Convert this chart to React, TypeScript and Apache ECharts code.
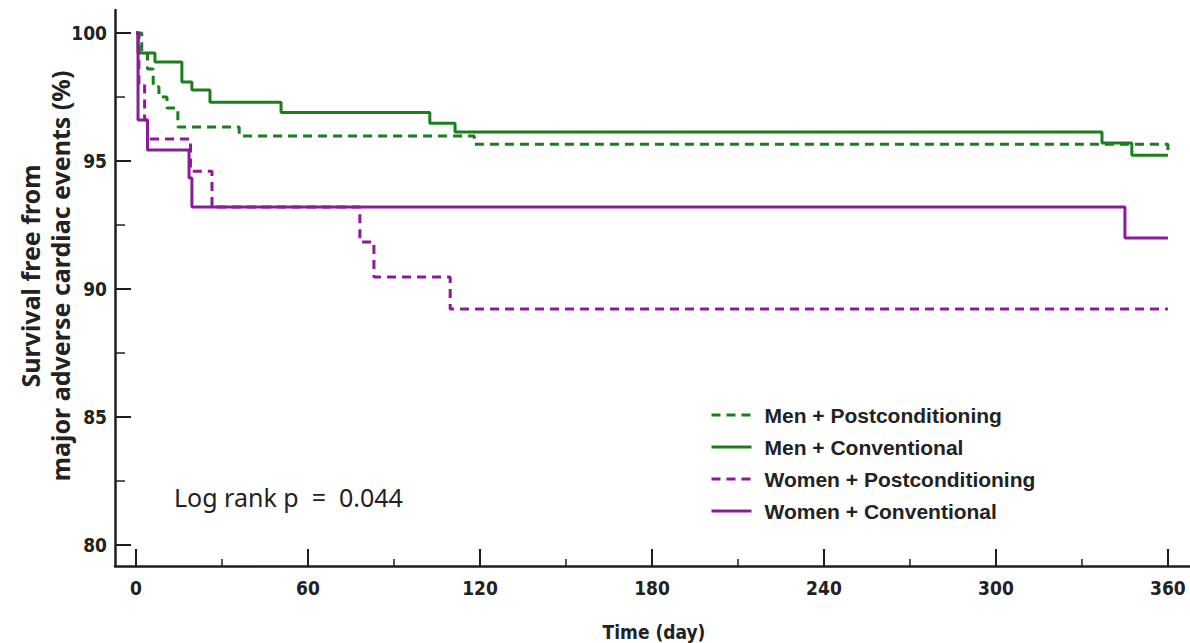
import React, { useEffect, useRef } from "react";
import * as echarts from "echarts";

// ---- Data ----
const MEN_POST_DAYS = [0, 2, 4, 6, 8, 10.8, 14.6, 36, 118, 360, 360];
const MEN_POST_VALUES = [100, 99.2, 98.6, 97.9, 97.5, 97.07, 96.33, 95.98, 95.66, 95.66, 95.25];

const MEN_CONV_DAYS = [0, 0.7, 6.6, 16, 19.5, 25.8, 50.6, 102.5, 111.3, 337, 347.4, 360];
const MEN_CONV_VALUES = [100, 99.22, 98.87, 98.09, 97.77, 97.3, 96.9, 96.48, 96.13, 95.7, 95.23, 95.23];

const WOMEN_POST_DAYS = [0, 1, 3, 4, 19, 26.5, 78.1, 83, 109.6, 360];
const WOMEN_POST_VALUES = [100, 98.0, 96.6, 95.86, 94.6, 93.2, 91.84, 90.47, 89.22, 89.22];

const WOMEN_CONV_DAYS = [0, 0.7, 4, 18.5, 19.5, 345, 360];
const WOMEN_CONV_VALUES = [100, 96.6, 95.43, 94.34, 93.2, 91.99, 91.99];

const SERIES_NAMES = [
  "Men + Postconditioning",
  "Men + Conventional",
  "Women + Postconditioning",
  "Women + Conventional",
];

const X_MAJOR_TICKS = [0, 60, 120, 180, 240, 300, 360];
const X_MINOR_TICKS = [30, 90, 150, 210, 270, 330];
const Y_MAJOR_TICKS = [80, 85, 90, 95, 100];
const Y_MINOR_TICKS = [82.5, 87.5, 92.5, 97.5];

const GREEN = "#1c7d1c";
const PURPLE = "#8a1c98";
const AXIS_COLOR = "#1e1e1e";

const zip = (xs: number[], ys: number[]) => xs.map((x, i) => [x, ys[i]]);

export default function App() {
  const ref = useRef<HTMLDivElement>(null);

  useEffect(() => {
    if (!ref.current) return;
    const chart = echarts.init(ref.current, undefined, { renderer: "svg" });

    const tickFont = {
      fontFamily: "'Liberation Sans Narrow', 'DejaVu Sans Condensed', 'Liberation Sans', Arial, sans-serif",
      fontWeight: "bold" as const,
      fontSize: 19,
      color: "#222",
    };

    const xMin = -7.33;
    const xMax = 367.7;
    const yMin = 79.18;
    const yMax = 100.9;

    const mk = (name: string, days: number[], vals: number[], color: string, dashed: boolean) => ({
      name,
      type: "line",
      step: "end",
      symbol: "none",
      data: zip(days, vals),
      lineStyle: { color, width: 3, type: dashed ? [9, 6] : "solid" },
      itemStyle: { color },
      z: 3,
    });

    // minor ticks drawn through the axes' own scales
    const minorTickSeries = (data: number[][], dx: number, dy: number) => ({
      type: "custom",
      silent: true,
      clip: false,
      z: 4,
      data,
      renderItem: (_params: any, api: any) => {
        const p = api.coord([api.value(0), api.value(1)]);
        return {
          type: "line",
          shape: { x1: p[0], y1: p[1], x2: p[0] + dx, y2: p[1] + dy },
          style: { stroke: AXIS_COLOR, lineWidth: 1.5 },
        };
      },
    });

    chart.setOption({
      animation: false,
      grid: { left: 115, right: 0, top: 10, bottom: 77, containLabel: false },
      xAxis: {
        type: "value",
        min: xMin,
        max: xMax,
        axisLine: { show: true, onZero: false, lineStyle: { color: AXIS_COLOR, width: 2.5 } },
        splitLine: { show: false },
        axisTick: {
          show: true,
          inside: true,
          length: 17,
          customValues: X_MAJOR_TICKS,
          lineStyle: { color: AXIS_COLOR, width: 2 },
        },
        axisLabel: { ...tickFont, margin: 12, customValues: X_MAJOR_TICKS },
      },
      yAxis: {
        type: "value",
        min: yMin,
        max: yMax,
        axisLine: { show: true, onZero: false, lineStyle: { color: AXIS_COLOR, width: 2.5 } },
        splitLine: { show: false },
        axisTick: {
          show: true,
          inside: true,
          length: 16,
          customValues: Y_MAJOR_TICKS,
          lineStyle: { color: AXIS_COLOR, width: 2 },
        },
        axisLabel: { ...tickFont, margin: 8, customValues: Y_MAJOR_TICKS },
      },
      legend: {
        orient: "vertical",
        left: 705,
        top: 399,
        itemWidth: 40,
        itemHeight: 20,
        itemGap: 10,
        data: SERIES_NAMES,
        itemStyle: { opacity: 0 },
        lineStyle: { width: 3 },
        textStyle: {
          fontFamily: "'Liberation Sans', Arial, sans-serif",
          fontWeight: "bold",
          fontSize: 21,
          lineHeight: 22,
          color: "#222",
          padding: [0, 0, 0, 8],
        },
      },
      graphic: [
        {
          type: "text",
          x: 45,
          y: 276,
          rotation: Math.PI / 2,
          style: {
            text: "Survival free from\nmajor adverse cardiac events (%)",
            font: "bold 25px 'Noto Sans', 'Open Sans', sans-serif",
            fill: "#222",
            align: "center",
            verticalAlign: "middle",
            lineHeight: 30,
          },
        },
        {
          type: "text",
          x: 654,
          y: 632,
          style: {
            text: "Time (day)",
            font: "bold 19px 'Liberation Sans Narrow', 'DejaVu Sans Condensed', 'Liberation Sans', sans-serif",
            fill: "#222",
            align: "center",
            verticalAlign: "middle",
          },
        },
        {
          type: "text",
          x: 174,
          y: 497,
          style: {
            text: "Log rank p  =  0.044",
            font: "25px 'Noto Sans', 'Open Sans', sans-serif",
            fill: "#222",
            align: "left",
            verticalAlign: "middle",
          },
        },
      ],
      series: [
        mk(SERIES_NAMES[0], MEN_POST_DAYS, MEN_POST_VALUES, GREEN, true),
        mk(SERIES_NAMES[1], MEN_CONV_DAYS, MEN_CONV_VALUES, GREEN, false),
        mk(SERIES_NAMES[2], WOMEN_POST_DAYS, WOMEN_POST_VALUES, PURPLE, true),
        mk(SERIES_NAMES[3], WOMEN_CONV_DAYS, WOMEN_CONV_VALUES, PURPLE, false),
        minorTickSeries(Y_MINOR_TICKS.map((v) => [xMin, v]), 10, 0),
        minorTickSeries(X_MINOR_TICKS.map((v) => [v, yMin]), 0, -7),
      ],
    });

    return () => chart.dispose();
  }, []);

  return (
    <div
      ref={ref}
      style={{ position: "fixed", left: 0, top: 0, width: 1190, height: 643, background: "#fff" }}
    />
  );
}
